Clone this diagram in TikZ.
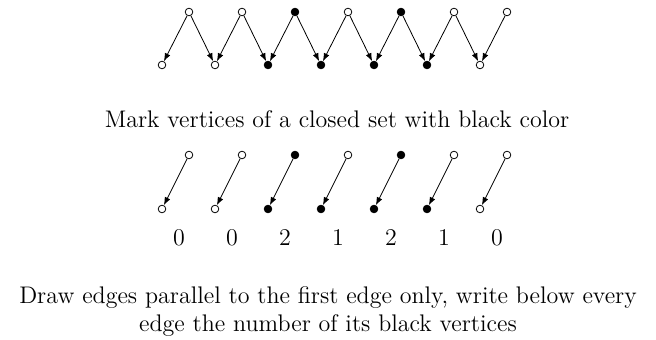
\documentclass[tikz,border=0pt]{standalone}
\usetikzlibrary{arrows.meta}
\tikzset{
  vtx/.style={draw, circle, inner sep=0pt, minimum size=3.8pt, line width=0.4pt},
  arc/.style={-{Latex[length=4pt,width=3pt]}, line width=0.4pt},
  num/.style={font=\large, inner sep=0pt},
  capt/.style={font=\large, align=center, inner sep=0pt},
}

\begin{document}
\begin{tikzpicture}[x=0.5pt, y=-0.5pt]
\useasboundingbox (0,0) rectangle (656,340);

% ---------------------------------------------------------------- zigzag
\foreach \c [count=\i] in {white,white,black,white,black,white,white}
  \node[vtx, fill=\c] (t\i) at ({189+53*(\i-1)},12) {};
\foreach \c [count=\i] in {white,white,black,black,black,black,white}
  \node[vtx, fill=\c] (b\i) at ({162+53*(\i-1)},65) {};
\foreach \i in {1,...,7}
  \draw[arc] (t\i) -- (b\i);
\foreach \i [evaluate=\i as \j using int(\i+1)] in {1,...,6}
  \draw[arc] (t\i) -- (b\j);

\node[capt, anchor=base] (cap1) at (337,128) {Mark vertices of a closed set with black color};

% ---------------------------------------------------------------- parallel edges
\foreach \c [count=\i] in {white,white,black,white,black,white,white}
  \node[vtx, fill=\c] (s\i) at ({189+53*(\i-1)},155) {};
\foreach \c/\n [count=\i] in {white/0,white/0,black/2,black/1,black/2,black/1,white/0} {
  \node[vtx, fill=\c] (r\i) at ({162+53*(\i-1)},209) {};
  \node[num] (n\i) at ({179+53*(\i-1)},238) {\n};
}
\foreach \i in {1,...,7}
  \draw[arc] (s\i) -- (r\i);

\node[capt] (cap2) at (328,311.5)
  {Draw edges parallel to the first edge only, write below every\\
   edge the number of its black vertices};

\end{tikzpicture}
\end{document}
